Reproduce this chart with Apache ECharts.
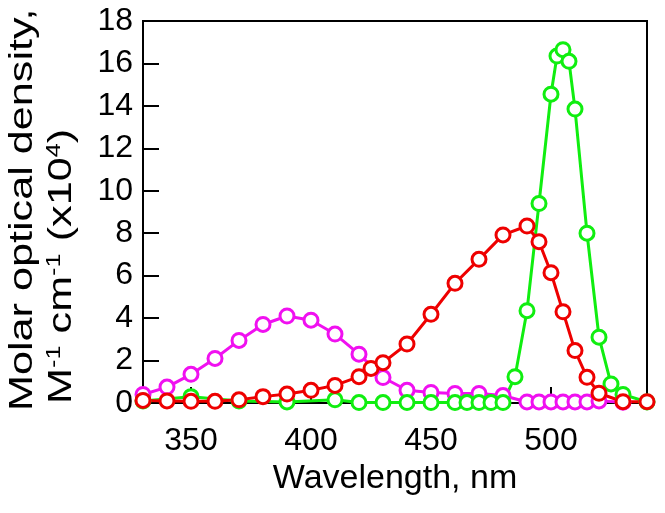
<!DOCTYPE html>
<html>
<head>
<meta charset="utf-8">
<script src="https://cdn.jsdelivr.net/npm/echarts@6/dist/echarts.min.js"></script>
<style>
html,body{margin:0;padding:0;background:#fff;}
#chart{width:665px;height:513px;}
</style>
</head>
<body>
<div id="chart"></div>
<script>
// Wavelength (nm) and molar optical density (x10^4 M^-1 cm^-1)
const magentaNm  = [330,340,350,360,370,380,390,400,410,420,430,440,450,460,470,480,490,495,500,505,510,515,520,530];
const magentaVal = [0.4,0.75,1.35,2.1,2.95,3.7,4.1,3.9,3.25,2.3,1.2,0.6,0.5,0.45,0.45,0.35,0.05,0.05,0.05,0.05,0.05,0.05,0.1,0.03];

const greenNm  = [330,350,370,390,410,420,430,440,450,460,465,470,475,480,485,490,495,500,502.5,505,507.5,510,515,520,525,530,540];
const greenVal = [0.1,0.3,0.1,0.05,0.15,0.02,0.02,0.02,0.02,0.02,0.02,0.02,0.02,0.02,1.24,4.35,9.4,14.55,16.35,16.65,16.1,13.85,8.0,3.1,0.9,0.4,0.05];

const redNm  = [330,340,350,360,370,380,390,400,410,420,425,430,440,450,460,470,480,490,495,500,505,510,515,520,530,540];
const redVal = [0.12,0.1,0.08,0.08,0.15,0.3,0.42,0.6,0.83,1.24,1.63,1.9,2.78,4.18,5.64,6.77,7.92,8.34,7.6,6.14,4.3,2.47,1.21,0.46,0.06,0.06];

const xTickValues = [350,400,450,500];
const xName = 'Wavelength, nm';
const yNameLine1 = 'Molar optical density,';
const yNameLine2 = 'M{s|-1} cm{s|-1} (x10{s|4})';

const FONT = '"Liberation Sans", Arial, sans-serif';

function pairs(xs, ys){ return xs.map((x,i)=>[x, ys[i]]); }

function mkSeries(name, xs, ys, color){
  return {
    name, type:'line', data: pairs(xs, ys),
    symbol:'circle', symbolSize:14,
    itemStyle:{color:'#fff', borderColor:color, borderWidth:3},
    lineStyle:{color, width:3},
    animation:false
  };
}

const chart = echarts.init(document.getElementById('chart'));
chart.setOption({
  animation:false,
  grid:{left:143, right:18, top:21, bottom:110, show:true, borderColor:'#000', borderWidth:2, outerBoundsMode:'none', containLabel:false},
  xAxis:{
    type:'value', min:330, max:540,
    name: xName, nameLocation:'middle', nameGap:57,
    nameTextStyle:{fontFamily:FONT, fontSize:34, color:'#000'},
    axisLine:{show:true, lineStyle:{color:'#000', width:2}},
    axisTick:{show:true, inside:true, length:16, lineStyle:{color:'#000', width:2}, customValues:xTickValues},
    axisLabel:{fontFamily:FONT, fontSize:32, color:'#000', margin:22, customValues:xTickValues},
    splitLine:{show:false}
  },
  yAxis:{
    type:'value', min:0, max:18, interval:2,
    axisLine:{show:true, lineStyle:{color:'#000', width:2}},
    axisTick:{show:true, inside:true, length:16, lineStyle:{color:'#000', width:2}},
    axisLabel:{fontFamily:FONT, fontSize:32, color:'#000', margin:10},
    splitLine:{show:false}
  },
  graphic:[
    {type:'text', x:23, y:411, rotation:Math.PI/2, scaleX:1.27,
      style:{text:yNameLine1, fontFamily:FONT, fontSize:34, fill:'#000', align:'left', verticalAlign:'middle'}},
    {type:'text', x:62, y:404, rotation:Math.PI/2, scaleX:1.27,
      style:{text:yNameLine2, fontFamily:FONT, fontSize:34, fill:'#000', align:'left', verticalAlign:'middle',
        rich:{s:{fontFamily:FONT, fontSize:20, fill:'#000', verticalAlign:'top', padding:[0,0,16,0]}}}}
  ],
  series:[
    mkSeries('magenta', magentaNm, magentaVal, '#f010f0'),
    mkSeries('green', greenNm, greenVal, '#10ee10'),
    mkSeries('red', redNm, redVal, '#ee0000')
  ]
});
</script>
</body>
</html>
